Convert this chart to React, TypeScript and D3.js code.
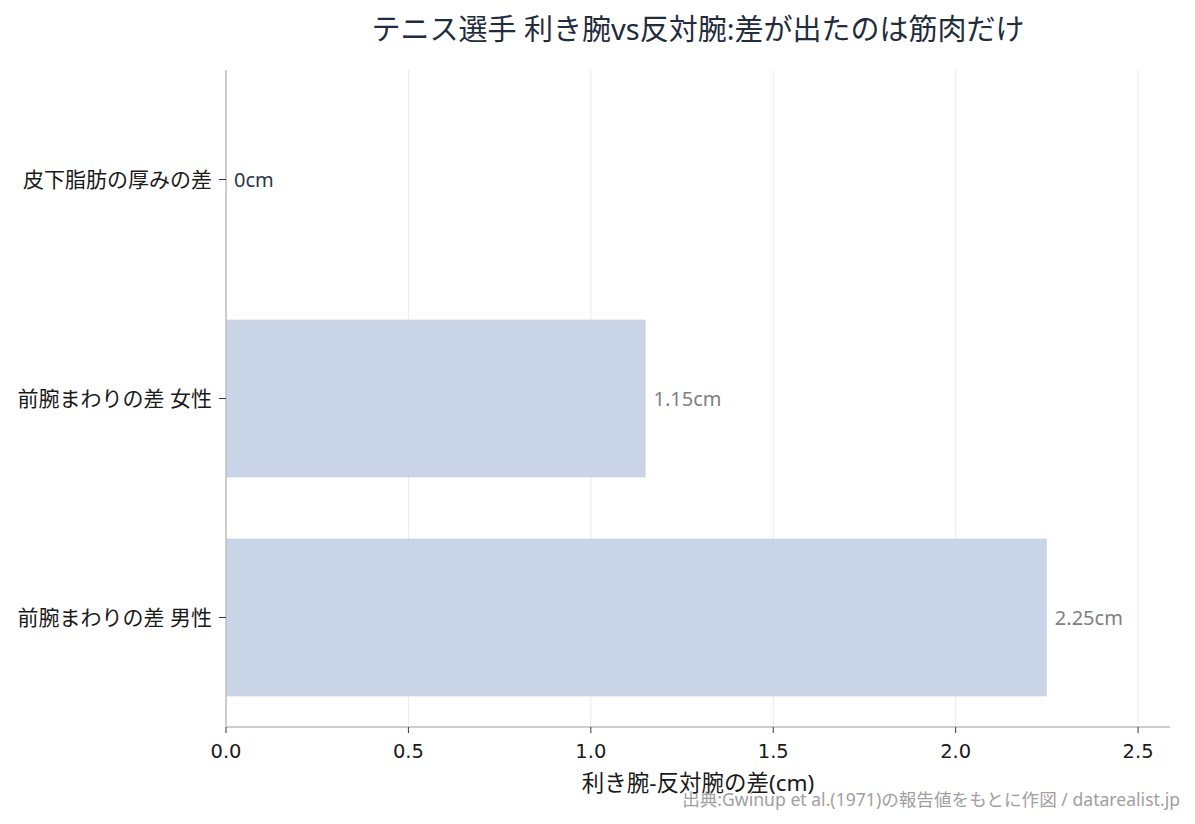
import React from "react";
import * as d3 from "d3";

const categories = ["皮下脂肪の厚みの差", "前腕まわりの差 女性", "前腕まわりの差 男性"];
const values = [0, 1.15, 2.25];
const valueLabels = ["0cm", "1.15cm", "2.25cm"];
const xTicks = [0, 0.5, 1.0, 1.5, 2.0, 2.5];

const W = 1195, H = 824;
const M = { left: 226, right: 1170, top: 70, bottom: 727 };
const FONT = "'Noto Sans', 'Noto Sans CJK JP', sans-serif";
const TICKFONT = "'DejaVu Sans', sans-serif";

export default function App() {
  const x = d3.scaleLinear().domain([0, 2.5875]).range([M.left, M.right]);
  const y = d3.scaleBand().domain(categories).range([M.top, M.bottom]).paddingInner(0.28).paddingOuter(0.14);
  const yc = (c: string) => (y(c) as number) + y.bandwidth() / 2;
  return (
    <svg width={W} height={H} style={{ position: "absolute", left: 0, top: 0, fontFamily: FONT }}>
      <rect width={W} height={H} fill="#fff" />
      {xTicks.slice(1).map((t) => (
        <line key={t} x1={x(t)} x2={x(t)} y1={M.top} y2={M.bottom} stroke="#ebebeb" strokeWidth={1} />
      ))}
      {categories.map((c, i) => (
        <rect key={c} x={x(0)} y={y(c)} width={x(values[i]) - x(0)} height={y.bandwidth()} fill="#c9d5e7" />
      ))}
      <line x1={M.left} x2={M.left} y1={M.top} y2={M.bottom} stroke="#bdbdbd" strokeWidth={1.5} />
      <line x1={M.left} x2={M.right} y1={M.bottom} y2={M.bottom} stroke="#bdbdbd" strokeWidth={1.5} />
      {categories.map((c) => (
        <g key={c}>
          <line x1={M.left - 7} x2={M.left} y1={yc(c)} y2={yc(c)} stroke="#333" strokeWidth={1} />
          <text x={M.left - 14} y={yc(c)} dy="0.35em" textAnchor="end" fontSize={21} fill="#1a1a1a">{c}</text>
        </g>
      ))}
      {categories.map((c, i) => (
        <text key={c} x={x(values[i]) + 8} y={yc(c)} dy="0.35em" fontSize={20}
          fill={values[i] === 0 ? "#2d3748" : "#808080"}>{valueLabels[i]}</text>
      ))}
      {xTicks.map((t) => (
        <g key={t}>
          <line x1={x(t)} x2={x(t)} y1={M.bottom} y2={M.bottom + 6} stroke="#333" strokeWidth={1} />
          <text x={x(t)} y={M.bottom + 24} dy="0.35em" textAnchor="middle" fontSize={19.5} fontFamily={TICKFONT} fill="#1a1a1a">{t.toFixed(1)}</text>
        </g>
      ))}
      <text x={(M.left + M.right) / 2} y={783} dy="0.35em" textAnchor="middle" fontSize={22.5} fill="#1a1a1a">利き腕-反対腕の差(cm)</text>
      <text x={(M.left + M.right) / 2} y={30} dy="0.35em" textAnchor="middle" fontSize={29} fill="#1f2d3d">テニス選手 利き腕vs反対腕:差が出たのは筋肉だけ</text>
      <text x={1180} y={800} dy="0.35em" textAnchor="end" fontSize={17.6} fill="#a0a0a0">出典:Gwinup et al.(1971)の報告値をもとに作図 / datarealist.jp</text>
    </svg>
  );
}
